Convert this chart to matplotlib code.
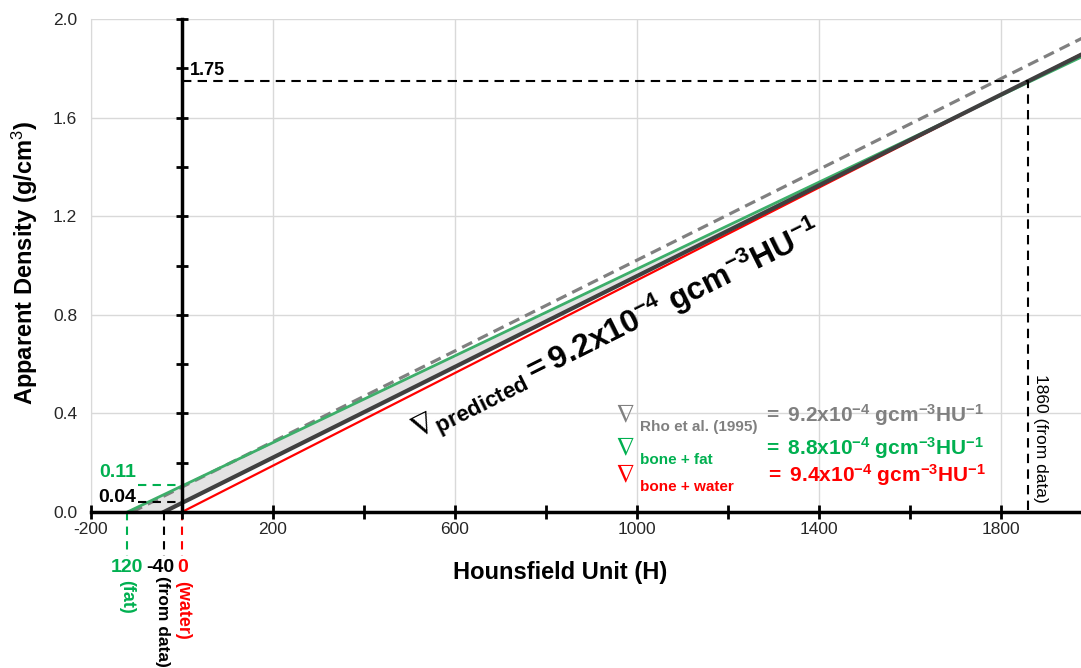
import numpy as np
import matplotlib
matplotlib.use('Agg')
import matplotlib.pyplot as plt

plt.rcParams['font.family'] = ['Liberation Sans', 'DejaVu Sans']
plt.rcParams['mathtext.fontset'] = 'custom'
plt.rcParams['mathtext.rm'] = 'Liberation Sans'
plt.rcParams['mathtext.bf'] = 'Liberation Sans:bold'
plt.rcParams['mathtext.it'] = 'Liberation Sans:italic'
plt.rcParams['mathtext.sf'] = 'Liberation Sans'
plt.rcParams['mathtext.fallback'] = 'stix'
plt.rcParams['axes.unicode_minus'] = False

# calibration lines: Hounsfield unit vs apparent density
water_h = np.array([0, 2000])
water_rho = np.array([0.0, 1.880])
fat_h = np.array([-120, 2000])
fat_rho = np.array([0.0, 1.866])
pred_h = np.array([-40, 2000])
pred_rho = np.array([0.0, 1.877])
rho_h = np.array([-110, 2000])
rho_rho = np.array([0.0, 1.942])

# axis ticks
x_labels = [-200, 200, 600, 1000, 1400, 1800]
x_minor = [-200, 0, 200, 400, 600, 800, 1000, 1200, 1400, 1600, 1800]
y_labels = [0.0, 0.4, 0.8, 1.2, 1.6, 2.0]
y_minor = [0.2, 0.4, 0.6, 0.8, 1.0, 1.2, 1.4, 1.6, 1.8, 2.0]

# key points
data_h = 1860
data_rho = 1.75
fat_int = 0.11
pred_int = 0.04

GREEN = '#00b050'
GREEN_LINE = '#3dae6a'
RED = '#ff0000'
GREY = '#808080'
DARK = '#404040'

W, H = 1081, 668
fig = plt.figure(figsize=(W / 100, H / 100), dpi=100)
ax = fig.add_axes([91 / W, 156 / H, 990 / W, 493 / H])


def px(x, y):
    return x / W, 1 - y / H


ax.set_xlim(-200, 1976)
ax.set_ylim(0, 2.0)
ax.set_xticks(x_labels)
ax.set_yticks(y_labels)
ax.set_yticklabels(['%.1f' % v for v in y_labels])
ax.tick_params(axis='both', length=0, labelsize=12.5, colors='#262626')
ax.tick_params(axis='x', pad=7)
ax.tick_params(axis='y', pad=10)
ax.grid(True, color='#d9d9d9', linewidth=1)
ax.set_axisbelow(True)
for s in ['top', 'right']:
    ax.spines[s].set_visible(False)
ax.spines['left'].set_color('#d9d9d9')
ax.spines['bottom'].set_color('black')
ax.spines['bottom'].set_linewidth(2.5)
ax.spines['bottom'].set_zorder(6)

# y-axis through H = 0 with cross ticks
ax.plot([0, 0], [0, 2.0], color='black', lw=2.5, zorder=6, clip_on=False)
ax.plot(np.zeros(len(y_minor)), y_minor, ls='none', marker='_', ms=8, mew=2,
        color='black', zorder=6, clip_on=False)
ax.plot(x_minor, np.zeros(len(x_minor)), ls='none', marker='|', ms=10, mew=2,
        color='black', zorder=6, clip_on=False)

# shaded band between fat and predicted lines
ax.fill(np.r_[fat_h, pred_h[::-1]], np.r_[fat_rho, pred_rho[::-1]],
        color='#e3e3e3', zorder=2, lw=0)

ax.plot(rho_h, rho_rho, color=GREY, lw=2.3, dashes=(3.5, 2), zorder=3)
ax.plot(fat_h, fat_rho, color=GREEN_LINE, lw=2, zorder=3)
ax.plot(water_h, water_rho, color=RED, lw=1.6, zorder=3)
ax.plot(pred_h, pred_rho, color=DARK, lw=3, zorder=4)

# dashed guides
ax.plot([0, data_h, data_h], [data_rho, data_rho, 0], color='black', lw=1.5,
        dashes=(4.5, 3), zorder=5)
ax.plot([-97, 0], [fat_int, fat_int], color=GREEN, lw=1.5, dashes=(4, 3), zorder=5)
ax.plot([-97, 0], [pred_int, pred_int], color='black', lw=1.5, dashes=(4, 3), zorder=5)
ax.plot([-120, -120], [0, -0.18], color=GREEN, lw=1.5, dashes=(4, 3), clip_on=False)
ax.plot([-40, -40], [0, -0.18], color='black', lw=1.5, dashes=(4, 3), clip_on=False)
ax.plot([0, 0], [0, -0.18], color=RED, lw=1.5, dashes=(4, 3), clip_on=False)

ax.text(18, 1.79, '1.75', fontsize=13, fontweight='bold', va='center', ha='left')
ax.text(-100, 0.16, '0.11', fontsize=14, fontweight='bold', va='center', ha='right',
        color=GREEN)
ax.text(-100, 0.06, '0.04', fontsize=14, fontweight='bold', va='center', ha='right')
ax.text(data_h + 26, 0.3, '1860 (from data)', fontsize=12.5,
        rotation=270, ha='center', va='center')

ax.text(-120, -0.225, '120', fontsize=14, fontweight='bold', color=GREEN,
        ha='center', va='center', clip_on=False)
ax.text(-48, -0.225, '-40', fontsize=14, fontweight='bold', color='black',
        ha='center', va='center', clip_on=False)
ax.text(1, -0.225, '0', fontsize=14, fontweight='bold', color=RED,
        ha='center', va='center', clip_on=False)
ax.text(-122, -0.345, '(fat)', fontsize=13, fontweight='bold', color=GREEN,
        rotation=270, ha='center', va='center', clip_on=False)
ax.text(-42, -0.445, '(from data)', fontsize=12.5, fontweight='bold', color='black',
        rotation=270, ha='center', va='center', clip_on=False)
ax.text(2, -0.4, '(water)', fontsize=13, fontweight='bold', color=RED,
        rotation=270, ha='center', va='center', clip_on=False)

# slope annotation along the line
ax.text(516, 0.292,
        r'$\nabla_{\mathbf{predicted}}\mathbf{=9.2x10^{-4}\ gcm^{-3}HU^{-1}}$',
        fontsize=23, rotation=26.5, rotation_mode='anchor', ha='left', va='baseline',
        zorder=7)

# slope key
keys = [
    ('Rho et al. (1995)', r'$\mathbf{=\ 9.2x10^{-4}\ gcm^{-3}HU^{-1}}$', GREY, 422, 763),
    ('bone + fat', r'$\mathbf{=\ 8.8x10^{-4}\ gcm^{-3}HU^{-1}}$', GREEN, 455, 763),
    ('bone + water', r'$\mathbf{=\ 9.4x10^{-4}\ gcm^{-3}HU^{-1}}$', RED, 482, 765),
]
for sub, val, col, base, xv in keys:
    fig.text(*px(615, base), r'$\nabla$', fontsize=19, color=col, ha='left', va='baseline')
    fig.text(*px(640, base + 9), sub, fontsize=11, fontweight='bold', color=col,
             ha='left', va='baseline')
    fig.text(*px(xv, base), val, fontsize=15, color=col, ha='left', va='baseline')

fig.text(*px(560, 573), 'Hounsfield Unit (H)', fontsize=17, fontweight='bold',
         ha='center', va='center')
fig.text(*px(25, 263), 'Apparent Density (g/cm$^3$)', fontsize=17, fontweight='bold',
         rotation=90, ha='center', va='center')

fig.savefig('out.png', dpi=100)
